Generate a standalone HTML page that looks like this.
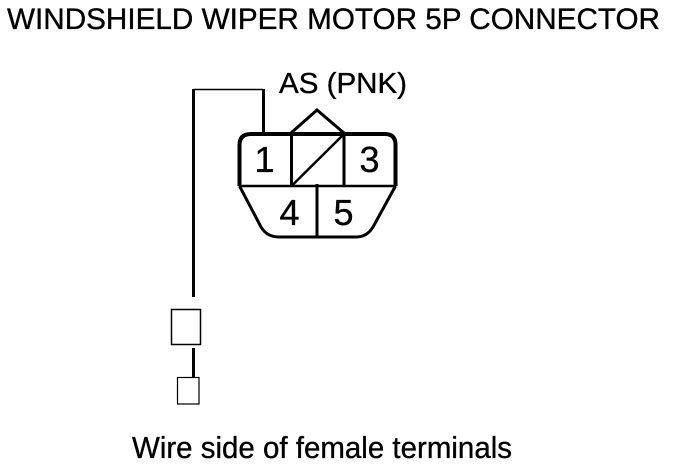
<!DOCTYPE html>
<html>
<head>
<meta charset="utf-8">
<style>
html,body{margin:0;padding:0;background:#fff;width:688px;height:468px;overflow:hidden}
svg{display:block}
text{font-family:"Liberation Sans",sans-serif;fill:#000;stroke:#000;stroke-width:.35}
</style>
</head>
<body>
<svg width="688" height="468" viewBox="0 0 688 468" xmlns="http://www.w3.org/2000/svg">
<rect width="688" height="468" fill="#fff"/>
<text x="7" y="29" font-size="29.6" textLength="653" lengthAdjust="spacingAndGlyphs">WINDSHIELD WIPER MOTOR 5P CONNECTOR</text>
<text x="279" y="93" font-size="29" textLength="128" lengthAdjust="spacingAndGlyphs">AS (PNK)</text>
<text x="132" y="458" font-size="30.5" textLength="380" lengthAdjust="spacingAndGlyphs">Wire side of female terminals</text>

<g fill="none" stroke="#000">
<path d="M193.5 89.5H263" stroke-width="1.5"/>
<path d="M193.5 89V297" stroke-width="3"/>
<path d="M263.5 89V133" stroke-width="3"/>
<path d="M239.5 186V145Q239.5 134 251 134H385Q395.5 134 395.5 145V186" stroke-width="4"/>
<path d="M239 186H396" stroke-width="2.5"/>
<path d="M239.5 186L261 227Q267 237 279 237H356Q367 237 373 227L395.5 186" stroke-width="3"/>
<path d="M291.5 134V186M344 134V186M317 184V237" stroke-width="3"/>
<path d="M291.5 186L344 134" stroke-width="2.5"/>
<path d="M291 133L317 110L344 133" stroke-width="3"/>
<path d="M193.5 348V378" stroke-width="3"/>
<rect x="171.5" y="309.5" width="29" height="35" stroke-width="1.5"/>
<rect x="177.5" y="377.5" width="21.5" height="26.5" stroke-width="1.2"/>
</g>

<text x="264.5" y="172" font-size="36" text-anchor="middle">1</text>
<text x="369.5" y="172" font-size="36" text-anchor="middle">3</text>
<text x="289.5" y="225" font-size="36" text-anchor="middle">4</text>
<text x="343.5" y="225" font-size="36" text-anchor="middle">5</text>
</svg>
</body>
</html>
